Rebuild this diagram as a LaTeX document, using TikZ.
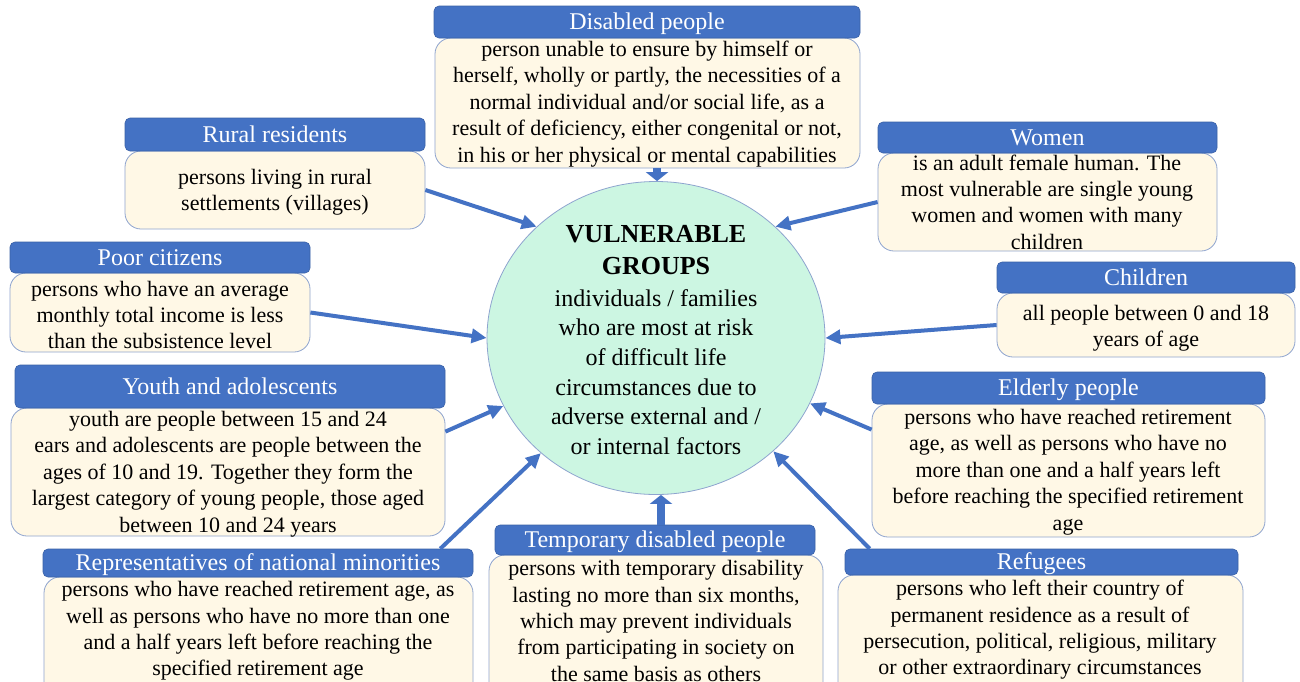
\documentclass[tikz,border=0pt]{standalone}
\usepackage{fontspec}
\setmainfont{Liberation Serif}
\usetikzlibrary{arrows.meta,shapes.geometric,calc}
\definecolor{hdrblue}{HTML}{4472C4}
\definecolor{bodyfill}{HTML}{FFF8E6}
\definecolor{bodyline}{HTML}{8EA4CF}
\definecolor{circfill}{HTML}{CCF6E2}
\tikzset{
 hdr/.style={rectangle, rounded corners=5pt, fill=hdrblue, draw=hdrblue!85!black, line width=0.6pt, text=white, font=\fontsize{24}{28}\selectfont, inner sep=0pt, text height=18pt, text depth=3pt},
 bdy/.style={rectangle, rounded corners=16pt, fill=bodyfill, draw=bodyline, line width=0.8pt, inner sep=0pt},
 btxt/.style={align=center, font=\fontsize{22}{26.4}\selectfont, inner sep=0pt, text=black},
 conn/.style={draw=hdrblue, line width=4pt, -{Triangle[length=15pt,width=14pt]}},
 blockarrow/.style={draw=hdrblue, line width=8pt, -{Triangle[length=9pt,width=22pt]}},
}
\newcommand{\mkhdr}[6]{%
 \node[hdr, minimum width={(#3-#2)*1pt}, minimum height={(#5-#4)*1pt}] (#1) at ({(#2+#3)/2},{(#4+#5)/2}) {#6};}
\newcommand{\mkbdy}[5]{%
 \node[bdy, minimum width={(#3-#2)*1pt}, minimum height={(#5-#4)*1pt}] (#1) at ({(#2+#3)/2},{(#4+#5)/2}) {};}
\begin{document}
\begin{tikzpicture}[x=1pt,y=-1pt]
\useasboundingbox (0,0) rectangle (1300,681);
\clip (0,0) rectangle (1300,681);
\fill[white] (0,0) rectangle (1300,681);

% central circle
\node[ellipse, fill=circfill, draw=bodyline, line width=0.8pt, minimum width=338pt, minimum height=313pt, inner sep=0pt] (c) at (656,338) {};
\node[align=center, inner sep=0pt, font=\fontsize{26}{32}\selectfont\bfseries] (ctitle) at (656,250) {VULNERABLE\\GROUPS};
\node[align=center, inner sep=0pt, font=\fontsize{24}{29.6}\selectfont] (cdesc) at (656,372) {individuals / families\\who are most at risk\\of difficult life\\circumstances due to\\adverse external and /\\or internal factors};

% Disabled people
\mkbdy{db}{435}{860}{38}{168}
\mkhdr{dh}{434}{860}{6}{38}{Disabled people}
\node[btxt] (dt) at (647,104) {person unable to ensure by himself or\\herself, wholly or partly, the necessities of a\\normal individual and/or social life, as a\\result of deficiency, either congenital or not,\\in his or her physical or mental capabilities};

% Rural residents
\mkbdy{rb}{125}{425}{151}{229}
\mkhdr{rh}{125}{425}{118}{151}{Rural residents}
\node[btxt] (rt) at (275,192) {persons living in rural\\settlements (villages)};

% Women
\mkbdy{wb}{878}{1217}{153}{251}
\mkhdr{wh}{878}{1217}{122}{153}{Women}
\node[btxt] (wt) at (1047,202) {is an adult female human. The\\most vulnerable are single young\\women and women with many\\children};

% Poor citizens
\mkbdy{pb}{10}{310}{273}{352}
\mkhdr{ph}{10}{310}{242}{273}{Poor citizens}
\node[btxt] (pt) at (160,315) {persons who have an average\\monthly total income is less\\than the subsistence level};

% Children
\mkbdy{chb}{997}{1295}{293}{357}
\mkhdr{chh}{997}{1295}{262}{293}{Children}
\node[btxt] (cht) at (1146,328) {all people between 0 and 18\\years of age};

% Youth and adolescents
\mkbdy{yb}{11}{445}{408}{536}
\mkhdr{yh}{15}{445}{365}{408}{Youth and adolescents}
\node[btxt] (yt) at (228,474) {youth are people between 15 and 24\\ears and adolescents are people between the\\ages of 10 and 19. Together they form the\\largest category of young people, those aged\\between 10 and 24 years};

% Elderly people
\mkbdy{eb}{872}{1265}{404}{537}
\mkhdr{eh}{872}{1265}{372}{404}{Elderly people}
\node[btxt] (et) at (1068,472) {persons who have reached retirement\\age, as well as persons who have no\\more than one and a half years left\\before reaching the specified retirement\\age};

% Representatives of national minorities
\mkbdy{repb}{44}{473}{577}{700}
\mkhdr{reph}{43}{473}{549}{577}{Representatives of national minorities}
\node[btxt] (rept) at (258,631) {persons who have reached retirement age, as\\well as persons who have no more than one\\and a half years left before reaching the\\specified retirement age};

% Temporary disabled people
\mkbdy{tb}{489}{823}{555}{700}
\mkhdr{th}{495}{815}{525}{555}{Temporary disabled people}
\node[btxt] (tt) at (656,621) {persons with temporary disability\\lasting no more than six months,\\which may prevent individuals\\from participating in society on\\the same basis as others};

% Refugees
\mkbdy{refb}{838}{1243}{575}{700}
\mkhdr{refh}{845}{1238}{549}{575}{Refugees}
\node[btxt] (reft) at (1040,630) {persons who left their country of\\permanent residence as a result of\\persecution, political, religious, military\\or other extraordinary circumstances};

% connectors
\draw[conn] (rb.east) -- (c.137);
\draw[conn] (wb.west) -- (c.43);
\draw[conn] (pb.east) -- (c.180);
\draw[conn] (chb.west) -- (c.east);
\draw[conn] ($(yb.north east)+(0,24)$) -- (c.204);
\draw[conn] ($(reph.north east)+(-33,0)$) -- (c.225);
\draw[conn] ($(eb.north west)+(0,26)$) -- (c.337);
\draw[conn] ($(refh.north west)+(25,0)$) -- (c.316);
\draw[blockarrow] ($(db.south -| c.north)+(1,0)$) -- ($(c.north)+(1,0)$);
\draw[blockarrow] ($(th.north -| c.south)+(5,0)$) -- ($(c.south)+(5,0)$);
\end{tikzpicture}
\end{document}
